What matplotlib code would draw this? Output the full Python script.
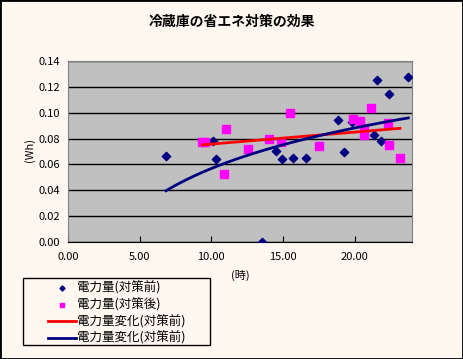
import numpy as np
import matplotlib
matplotlib.use("Agg")
import matplotlib.pyplot as plt

plt.rcParams['font.family'] = ['Noto Sans CJK JP', 'DejaVu Sans']

# 対策前 (before)
hours_before = [6.84, 10.14, 10.35, 13.56, 14.53, 14.95, 15.72, 16.58, 18.86,
                19.28, 19.84, 21.37, 21.58, 21.86, 22.42, 23.74]
wh_before = [0.0663, 0.0781, 0.0640, 0.0, 0.0702, 0.0640, 0.0647, 0.0647, 0.0941,
             0.0696, 0.0926, 0.0828, 0.1251, 0.0781, 0.1145, 0.1276]

# 対策後 (after)
hours_after = [9.37, 9.54, 10.86, 11.02, 12.54, 14.02, 14.84, 15.49, 17.51,
               19.86, 20.37, 20.65, 20.65, 21.12, 22.33, 22.40, 23.16]
wh_after = [0.0773, 0.0771, 0.0528, 0.0876, 0.0722, 0.0799, 0.0776, 0.1000, 0.0745,
            0.0951, 0.0938, 0.0872, 0.0831, 0.1039, 0.0923, 0.0753, 0.0652]

labels = ['電力量(対策前)', '電力量(対策後)', '電力量変化(対策前)', '電力量変化(対策前)']

fig = plt.figure(figsize=(4.63, 3.59), dpi=100, facecolor='#FFF8F0')
ax = fig.add_axes([68 / 463, 117 / 359, 344 / 463, 181 / 359])
ax.set_facecolor('#C0C0C0')

ax.scatter(hours_before, wh_before, marker='D', s=18, color='#000080', zorder=3, label=labels[0])
ax.scatter(hours_after, wh_after, marker='s', s=26, color='#FF00FF', zorder=3, label=labels[1])

# linear trend of after-data
xa = np.array(hours_after)
k, c = np.polyfit(xa, wh_after, 1)
xl = np.linspace(xa.min(), xa.max(), 100)
ax.plot(xl, k * xl + c, color='#FF0000', lw=2, zorder=4, label=labels[2])

# log trend of before-data
xb = np.array(hours_before)
a, b = np.polyfit(np.log(xb), wh_before, 1)
xg = np.linspace(xb.min(), xb.max(), 100)
ax.plot(xg, a * np.log(xg) + b, color='#000080', lw=2, zorder=4, label=labels[3])

ax.set_xlim(0, 24)
ax.set_ylim(0, 0.14)
ax.set_xticks([0, 5, 10, 15, 20])
ax.set_xticklabels(['%.2f' % v for v in [0, 5, 10, 15, 20]])
yt = np.arange(0, 0.141, 0.02)
ax.set_yticks(yt)
ax.set_yticklabels(['%.2f' % v for v in yt])
ax.tick_params(axis='x', direction='in', length=4, labelsize=8, pad=7)
ax.tick_params(axis='y', length=0, labelsize=8, pad=6)
ax.grid(axis='y', color='black', lw=1)
ax.set_axisbelow(True)
for s in ['top', 'right', 'left']:
    ax.spines[s].set_color('#808080')
ax.spines['bottom'].set_color('black')

fig.text(232 / 463, 1 - 22 / 359, '冷蔵庫の省エネ対策の効果', ha='center', va='center',
         fontsize=10, fontweight='bold')
fig.text(30 / 463, 1 - 150 / 359, '(Wh)', rotation=90, ha='center', va='center', fontsize=8)
fig.text(240 / 463, 1 - 275 / 359, '(時)', ha='center', va='center', fontsize=8)

# legend frame drawn separately so the handles can sit inset like the original
fig.patches.append(plt.Rectangle((23 / 463, 1 - 345 / 359), 187 / 463, 67 / 359,
                                 transform=fig.transFigure, facecolor='#FFF8F0',
                                 edgecolor='black', lw=1, zorder=1))
leg = fig.legend(loc='upper left', bbox_to_anchor=(48 / 463, 1 - 281 / 359),
                 fontsize=9, frameon=False, borderpad=0, labelspacing=0.27, markerscale=0.6,
                 handlelength=2.2, handletextpad=0.15, borderaxespad=0)
leg.set_zorder(2)

fig.patches.append(plt.Rectangle((0, 0), 1, 1, transform=fig.transFigure,
                                 fill=False, edgecolor='black', lw=2))
fig.savefig('out.png', dpi=100, facecolor=fig.get_facecolor())
